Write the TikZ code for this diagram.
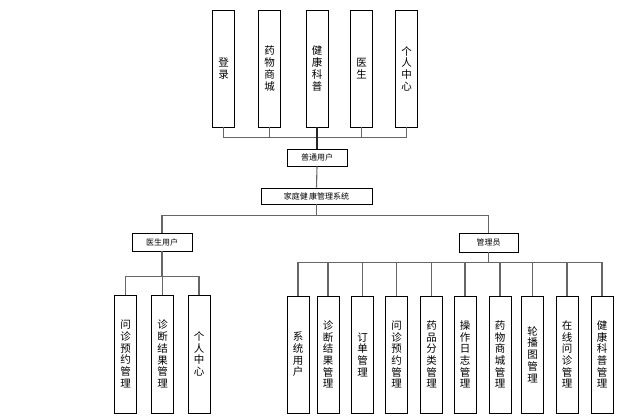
\documentclass[tikz,border=0pt]{standalone}
\usepackage{fontspec}
\newfontfamily\cjk{Noto Sans CJK SC}
\usetikzlibrary{positioning}

\begin{document}
\begin{tikzpicture}[x=1pt,y=-1pt,
  font=\cjk\fontsize{8}{10}\selectfont,
  box/.style={draw=black,line width=0.7pt,fill=white,
    inner sep=0pt,align=center,minimum height=17pt},
  tall/.style={box,minimum width=22pt,minimum height=117pt,
    font=\cjk\fontsize{10.5}{11.7}\selectfont},
  link/.style={draw=black!60,line width=1.1pt},
  trunk/.style={link,draw=black!85}]
\useasboundingbox (0,0) rectangle (623,418);

% top level
\node[tall] (login) at (223.5,68.5) {登\\录};
\node[tall] (shop) at (269.5,68.5) {药\\物\\商\\城};
\node[tall] (sci) at (317,68.5) {健\\康\\科\\普};
\node[tall] (doctor) at (361.5,68.5) {医\\生};
\node[tall] (mine) at (406.5,68.5) {个\\人\\中\\心};
\node[box,minimum width=60pt] (user) at (317,157.5) {普通用户};
\node[box,minimum width=111pt,minimum height=16pt] (sys) at (316.5,196) {家庭健\,康管理系统};
\node[box,minimum width=60pt,minimum height=18pt] (doc) at (162,242) {医生用户};
\node[box,minimum width=59pt,minimum height=19pt] (adm) at (488.5,242.5) {管理员};

% doctor side
\node[tall,minimum height=118pt] (d_appt) at (125.5,354) {问\\诊\\预\\约\\管\\理};
\node[tall,minimum height=118pt] (d_diag) at (162.5,354) {诊\\断\\结\\果\\管\\理};
\node[tall,minimum height=118pt] (d_mine) at (199,354) {个\\人\\中\\心};

% admin side
\node[tall] (a_user) at (298,354.5) {系\\统\\用\\户};
\node[tall] (a_diag) at (328,354.5) {诊\\断\\结\\果\\管\\理};
\node[tall] (a_order) at (362.5,354.5) {订\\单\\管\\理};
\node[tall] (a_appt) at (396.5,354.5) {问\\诊\\预\\约\\管\\理};
\node[tall] (a_cat) at (431.5,354.5) {药\\品\\分\\类\\管\\理};
\node[tall] (a_log) at (465,354.5) {操\\作\\日\\志\\管\\理};
\node[tall] (a_shop) at (500,354.5) {药\\物\\商\\城\\管\\理};
\node[tall] (a_banner) at (532.5,354.5) {轮\\播\\图\\管\\理};
\node[tall] (a_chat) at (567,354.5) {在\\线\\问\\诊\\管\\理};
\node[tall] (a_sci) at (602,354.5) {健\\康\\科\\普\\管\\理};

\foreach \n in {login,shop,doctor,mine}
  \draw[link] (\n.south) -- ++(0,10) -| (user.north);
\draw[trunk] (sci.south) -- (user.north);
\draw[link] (user.south) -- (sys.north);
\draw[link] (sys.south) -- ++(0,11) -| (doc.north);
\draw[link] (sys.south) -- ++(0,11) -| (adm.north);
\foreach \n in {d_appt,d_diag,d_mine}
  \draw[link] (doc.south) -- ++(0,25) -| (\n.north);
\foreach \n in {a_user,a_diag,a_order,a_appt,a_cat,a_log,a_shop,a_banner,a_chat,a_sci}
  \draw[link] (adm.south) -- ++(0,10) -| (\n.north);
\end{tikzpicture}
\end{document}
